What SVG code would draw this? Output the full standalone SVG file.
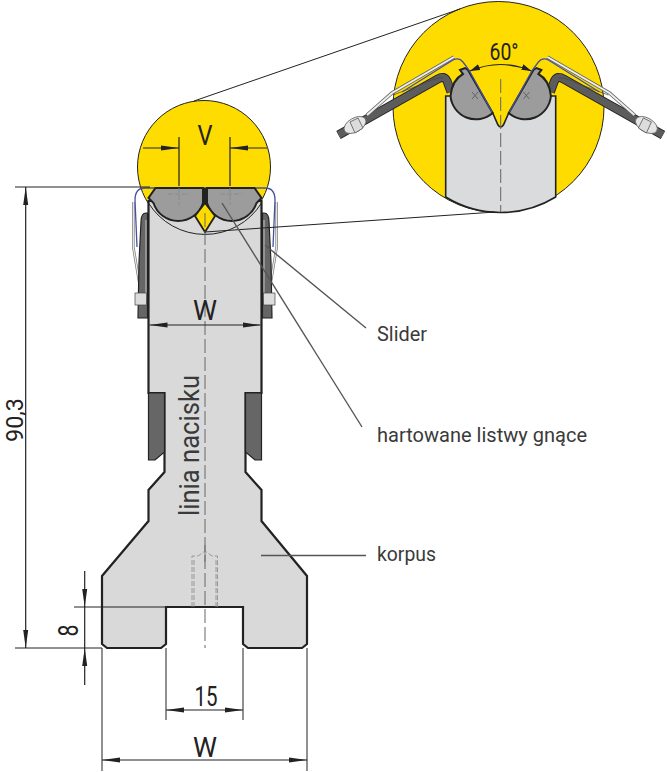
<svg xmlns="http://www.w3.org/2000/svg" width="667" height="772" viewBox="0 0 667 772">
<style>
.lbl{font-family:"Roboto","Liberation Sans",sans-serif;fill:#3a3a3a}
.dim{font-family:"Roboto","Liberation Sans",sans-serif;fill:#222;font-size:28px;text-anchor:middle}
.thin{stroke:#222;stroke-width:1;fill:none}
.dl{stroke:#222;stroke-width:1.2;fill:none}
.lead{stroke:#555;stroke-width:1.4;fill:none}
.ol{stroke:#222;stroke-width:2.2;fill:#d9d9d9;stroke-linejoin:miter}
.yl{fill:#ffdc00;stroke:#222;stroke-width:1}
.cl{stroke:#666;stroke-width:1;stroke-dasharray:14 4;fill:none}
.hid{stroke:#888;stroke-width:.8;stroke-dasharray:5 2;fill:none}
.roll{fill:#9c9c9c;stroke:#222;stroke-width:2}
.key{fill:#666;stroke:#222;stroke-width:1.2}
.blue{fill:none;stroke:#45519c;stroke-width:1.3}
</style>
<defs>
<marker id="a" markerUnits="userSpaceOnUse" markerWidth="20" markerHeight="8" refX="18" refY="3" orient="auto-start-reverse"><path d="M0,0.5 L18,3 L0,5.5 Z" fill="#222"/></marker>
<marker id="s" markerUnits="userSpaceOnUse" markerWidth="14" markerHeight="8" refX="10" refY="3.5" orient="auto-start-reverse"><path d="M0,0.5 L10,3.5 L0,6.5 Z" fill="#222"/></marker>
<g id="keyBig">
<path d="M451,92 L447,81 Q444,75 438,79 L338.5,135" fill="none" stroke="#222" stroke-width="9"/>
<path d="M451,92 L447,81 Q444,75 438,79 L338.5,135" fill="none" stroke="#5c5c5c" stroke-width="7.2"/>
<ellipse cx="355" cy="125" rx="12" ry="7" transform="rotate(-30 355 125)" fill="#e6e6e6" stroke="#666" stroke-width=".8"/>
<path d="M350,122 L358,118 L363,128 L355,133 Z" fill="#dcdcdc" stroke="#444" stroke-width=".7"/>
<path d="M454,57 L392,93 L367,115" fill="none" stroke="#666" stroke-width="3.6"/>
<path d="M454,57 L392,93 L367,115" fill="none" stroke="#eee" stroke-width="2"/>
<path d="M393,95 L425,83 Q437,77 443,78" fill="none" stroke="#444" stroke-width=".7"/>
</g>
<g id="keyTop">
<path d="M402,92 L453,60 Q459,57 463,62 L469,70 L492,112" class="blue"/>
<path d="M472,92 L478,99 M478,92 L472,99" stroke="#555" stroke-width=".8" fill="none"/>
</g>
<g id="sideSmall">
<path d="M133.3,202 V247 L140,287 V294" fill="none" stroke="#777" stroke-width="2.6"/>
<path d="M133.3,202 V247 L140,287 V294" fill="none" stroke="#eee" stroke-width="1.2"/>
<path d="M148,213 H146 Q141,213 141,222 L139,262 L138,318 H147.5 V213 Z" class="key"/>
<path d="M146,220 V300" stroke="#ddd" stroke-width=".8" fill="none"/>
<rect x="135" y="293" width="11.5" height="12" fill="#dcdcdc" stroke="#444" stroke-width=".7"/>
<path d="M150,188 H145 Q135,188 135,200 L137,247" class="blue"/>
</g>
</defs>

<g id="detail-circle">
<circle cx="498.5" cy="107" r="105.5" class="yl"/>
<path d="M445.7,96 L451,96 L468,96 L492.7,113 L498,125 Q500.7,129 503.4,125 L508.7,113 L533,96 L555.7,96 L555.7,197 A105.5,105.5 0 0 1 445.7,197 Z" fill="#dadbdd" stroke="#222" stroke-width="1.6"/>
<use href="#keyBig"/>
<use href="#keyBig" transform="matrix(-1 0 0 1 1001.4 0)"/>
<path d="M460,70 L465,68 L468,70 L492.7,113 A25.5,25.5 0 0 1 450.5,96 Q452,80 463,74 Z" class="roll" stroke-width="1.6"/>
<path d="M541.4,70 L536.4,68 L533.4,70 L508.7,113 A25.5,25.5 0 0 0 550.9,96 Q549.4,80 538.4,74 Z" class="roll" stroke-width="1.6"/>
<use href="#keyTop"/>
<use href="#keyTop" transform="matrix(-1 0 0 1 1001.4 0)"/>
<path d="M500.7,79 V212" class="cl"/>
<path d="M470,71 Q500.7,58 531.4,71" class="dl" marker-start="url(#s)" marker-end="url(#s)"/>
<text x="504" y="60" class="dim" style="font-size:23px" textLength="29" lengthAdjust="spacingAndGlyphs">60°</text>
</g>

<g id="tool-top">
<circle cx="204" cy="167" r="66.5" class="yl"/>
</g>

<g id="tool-body">
<path d="M148.5,201 H261.5 V393 H245.5 V472 L261.5,490 V521 L307,576 V644 L302,648 H248 L243,644 V607 H166 V644 L161,648 H107 L102,644 V576 L148.5,521 V490 L164.5,472 V393 H148.5 Z" class="ol"/>
<path d="M148.5,393 H164.5 V452 L155,460 H148.5 Z" class="key" stroke-width="2"/>
<path d="M261.5,393 H245.5 V452 L255,460 H261.5 Z" class="key" stroke-width="2"/>
<use href="#sideSmall"/>
<use href="#sideSmall" transform="matrix(-1 0 0 1 410 0)"/>
<path d="M150,188 H260" class="blue" stroke-width="1.6"/>
</g>

<g id="rollers">
<path d="M155.5,188 H203 V203 A26,26 0 0 1 153.5,203 L148.5,198 Z" class="roll"/>
<path d="M254.5,188 H207 V203 A26,26 0 0 0 256.5,203 L261.5,198 Z" class="roll"/>
<path d="M205,203 L195,216 L205,232 L215,216 Z" fill="#ffdc00" stroke="#222" stroke-width="1.8"/>
<path d="M205,188 V204" stroke="#222" stroke-width="2.6" fill="none"/>
<path d="M168,194 H190 M220,194 H242 M179,188 V205 M230,188 V205" class="hid"/>
<path d="M148.5,203 A66.5,66.5 0 0 0 261.5,203" class="thin"/>
</g>

<g id="bolt-hidden">
<path d="M192,607 V556 H198 L205,551 L212,556 H217.5 V607 M194,607 V558 M216,607 V558" class="hid"/>
<path d="M205,545 V562" stroke="#777" fill="none"/>
</g>

<g id="connectors">
<path d="M205,213 V648" class="cl"/>
<path d="M194,101 L460,9" class="thin"/>
<path d="M205,232 L495,212" class="thin"/>
<path d="M222,203 L362,427" class="lead"/>
<path d="M265,245 L366,328" class="lead"/>
<path d="M261,555.5 H366" class="lead"/>
<path d="M15,187 H150 M15,648 H102" class="thin"/>
<path d="M25.7,187 V648" class="dl" marker-start="url(#a)" marker-end="url(#a)"/>
<path d="M74,607 H166" class="thin"/>
<path d="M84.7,571 V607" class="dl" marker-end="url(#a)"/>
<path d="M84.7,607 V648" class="dl"/>
<path d="M84.7,685 V648" class="dl" marker-end="url(#a)"/>
<path d="M166,648 V720 M243,648 V720 M102,648 V771 M307,648 V771" class="thin"/>
<path d="M166,710 H243" class="dl" marker-start="url(#a)" marker-end="url(#a)"/>
<path d="M102,760 H307" class="dl" marker-start="url(#a)" marker-end="url(#a)"/>
<path d="M149.5,325 H260.5" class="dl" marker-start="url(#a)" marker-end="url(#a)"/>
<path d="M179,137 V186 M230,137 V186" class="dl"/>
<path d="M143,148 H179" class="dl" marker-end="url(#a)"/>
<path d="M267,148 H230" class="dl" marker-end="url(#a)"/>
</g>

<g id="labels">
<text x="205" y="145" class="dim" textLength="15" lengthAdjust="spacingAndGlyphs">V</text>
<text x="205" y="320" class="dim" textLength="24" lengthAdjust="spacingAndGlyphs">W</text>
<text x="205" y="757" class="dim" textLength="24" lengthAdjust="spacingAndGlyphs">W</text>
<text x="206" y="706" class="dim" textLength="23" lengthAdjust="spacingAndGlyphs">15</text>
<text transform="translate(78,630.5) rotate(-90)" class="dim" textLength="12" lengthAdjust="spacingAndGlyphs">8</text>
<text transform="translate(22.5,420) rotate(-90)" class="dim" style="font-size:23.5px" textLength="44" lengthAdjust="spacingAndGlyphs">90,3</text>
<text transform="translate(198.5,516) rotate(-90)" class="lbl" style="font-size:27px" textLength="141" lengthAdjust="spacingAndGlyphs">linia nacisku</text>
<text x="377" y="341" class="lbl" style="font-size:19.5px" textLength="50" lengthAdjust="spacingAndGlyphs">Slider</text>
<text x="377" y="442" class="lbl" style="font-size:19.5px" textLength="210" lengthAdjust="spacingAndGlyphs">hartowane listwy gnące</text>
<text x="377" y="561" class="lbl" style="font-size:19.5px" textLength="59" lengthAdjust="spacingAndGlyphs">korpus</text>
</g>
</svg>
